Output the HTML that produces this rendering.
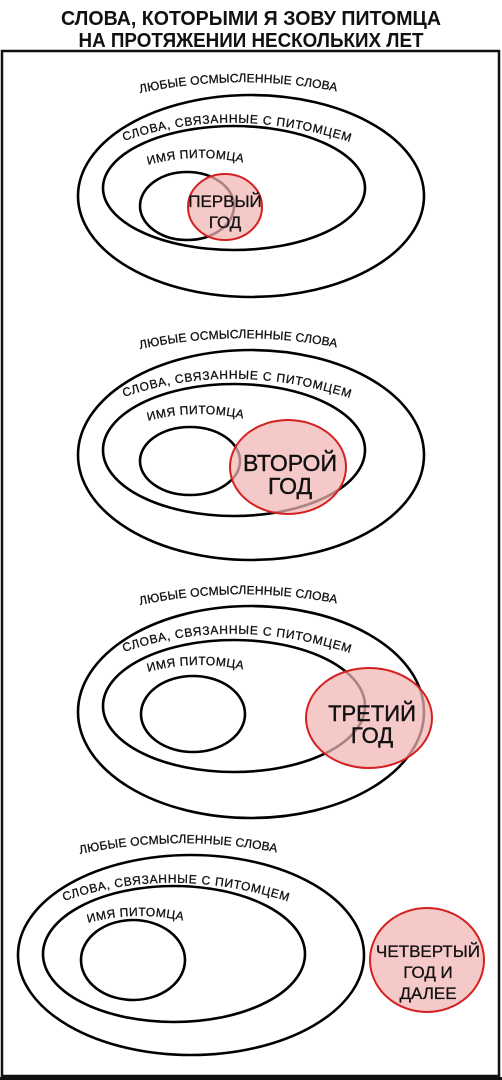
<!DOCTYPE html>
<html><head><meta charset="utf-8"><style>
html,body{margin:0;padding:0;background:#fff;}
svg{display:block}
text{font-family:"Liberation Sans","DejaVu Sans",sans-serif;fill:#111}
.l{font-size:12px;stroke:#111;stroke-width:0.3}
.e{fill:none;stroke:#000;stroke-width:2.6}
.r{fill:rgba(243,180,180,0.72);stroke:#d42020;stroke-width:2}
.t{font-size:17px;text-anchor:middle;stroke:#111;stroke-width:0.3}
</style></head><body>
<svg width="502" height="1080" viewBox="0 0 502 1080" xmlns="http://www.w3.org/2000/svg">
<text x="251" y="25" font-size="20" font-weight="bold" text-anchor="middle" textLength="380" lengthAdjust="spacingAndGlyphs">СЛОВА, КОТОРЫМИ Я ЗОВУ ПИТОМЦА</text>
<text x="251" y="47" font-size="20" font-weight="bold" text-anchor="middle" textLength="345" lengthAdjust="spacingAndGlyphs">НА ПРОТЯЖЕНИИ НЕСКОЛЬКИХ ЛЕТ</text>
<rect x="2" y="51" width="497" height="1025" fill="none" stroke="#111" stroke-width="2.5"/>
<rect x="0" y="1077" width="502" height="3" fill="#111"/>
<defs>
<path id="a1" d="M140,93 Q240,72 340,92"/>
<path id="b1" d="M124,141 Q230,104 350,142"/>
<path id="c1" d="M148,165 Q195,152 245,163"/>
<path id="a2" d="M140,349 Q240,328 340,348"/>
<path id="b2" d="M124,397 Q230,360 350,398"/>
<path id="c2" d="M148,421 Q195,408 245,419"/>
<path id="a3" d="M140,605 Q240,584 340,604"/>
<path id="b3" d="M124,652 Q230,615 350,653"/>
<path id="c3" d="M148,672 Q195,659 245,670"/>
<path id="a4" d="M80,854 Q180,833 280,853"/>
<path id="b4" d="M64,901 Q170,864 290,902"/>
<path id="c4" d="M88,923 Q135,910 185,921"/>
</defs>
<!-- panel 1 -->
<ellipse class="e" cx="251" cy="196" rx="173" ry="101"/>
<ellipse class="e" cx="234" cy="188" rx="131" ry="62"/>
<ellipse class="e" cx="187" cy="206" rx="47" ry="34"/>
<ellipse class="r" cx="225" cy="207" rx="37" ry="33"/>
<text class="t" x="225" y="207">ПЕРВЫЙ</text><text class="t" x="225" y="228">ГОД</text>
<text class="l"><textPath href="#a1" textLength="198">ЛЮБЫЕ ОСМЫСЛЕННЫЕ СЛОВА</textPath></text>
<text class="l"><textPath href="#b1" textLength="230">СЛОВА, СВЯЗАННЫЕ  С ПИТОМЦЕМ</textPath></text>
<text class="l"><textPath href="#c1" textLength="96">ИМЯ ПИТОМЦА</textPath></text>
<!-- panel 2 -->
<ellipse class="e" cx="251" cy="455" rx="173" ry="105"/>
<ellipse class="e" cx="234" cy="450" rx="131" ry="66"/>
<ellipse class="e" cx="190" cy="461" rx="50" ry="34"/>
<ellipse class="r" cx="288" cy="467" rx="58" ry="47"/>
<text x="290" y="471" font-size="23" text-anchor="middle" stroke="#111" stroke-width="0.4">ВТОРОЙ</text><text x="290" y="494" font-size="23" text-anchor="middle" stroke="#111" stroke-width="0.4">ГОД</text>
<text class="l"><textPath href="#a2" textLength="198">ЛЮБЫЕ ОСМЫСЛЕННЫЕ СЛОВА</textPath></text>
<text class="l"><textPath href="#b2" textLength="230">СЛОВА, СВЯЗАННЫЕ  С ПИТОМЦЕМ</textPath></text>
<text class="l"><textPath href="#c2" textLength="96">ИМЯ ПИТОМЦА</textPath></text>
<!-- panel 3 -->
<ellipse class="e" cx="251" cy="712" rx="173" ry="106"/>
<ellipse class="e" cx="234" cy="706" rx="131" ry="66"/>
<ellipse class="e" cx="193" cy="714" rx="52" ry="38"/>
<ellipse class="r" cx="369" cy="718" rx="63" ry="50"/>
<text x="372" y="721" font-size="22" text-anchor="middle" stroke="#111" stroke-width="0.4">ТРЕТИЙ</text><text x="372" y="743" font-size="22" text-anchor="middle" stroke="#111" stroke-width="0.4">ГОД</text>
<text class="l"><textPath href="#a3" textLength="198">ЛЮБЫЕ ОСМЫСЛЕННЫЕ СЛОВА</textPath></text>
<text class="l"><textPath href="#b3" textLength="230">СЛОВА, СВЯЗАННЫЕ  С ПИТОМЦЕМ</textPath></text>
<text class="l"><textPath href="#c3" textLength="96">ИМЯ ПИТОМЦА</textPath></text>
<!-- panel 4 -->
<ellipse class="e" cx="191" cy="955" rx="173" ry="100"/>
<ellipse class="e" cx="174" cy="954" rx="131" ry="68"/>
<ellipse class="e" cx="133" cy="960" rx="52" ry="40"/>
<ellipse class="r" cx="427" cy="960" rx="57" ry="52"/>
<text x="428" y="957" font-size="17" text-anchor="middle" textLength="104" lengthAdjust="spacingAndGlyphs" stroke="#111" stroke-width="0.3">ЧЕТВЕРТЫЙ</text>
<text x="428" y="978" font-size="17" text-anchor="middle" stroke="#111" stroke-width="0.3">ГОД И</text>
<text x="428" y="999" font-size="17" text-anchor="middle" stroke="#111" stroke-width="0.3">ДАЛЕЕ</text>
<text class="l"><textPath href="#a4" textLength="198">ЛЮБЫЕ ОСМЫСЛЕННЫЕ СЛОВА</textPath></text>
<text class="l"><textPath href="#b4" textLength="228">СЛОВА, СВЯЗАННЫЕ  С ПИТОМЦЕМ</textPath></text>
<text class="l"><textPath href="#c4" textLength="96">ИМЯ ПИТОМЦА</textPath></text>
</svg>
</body></html>
